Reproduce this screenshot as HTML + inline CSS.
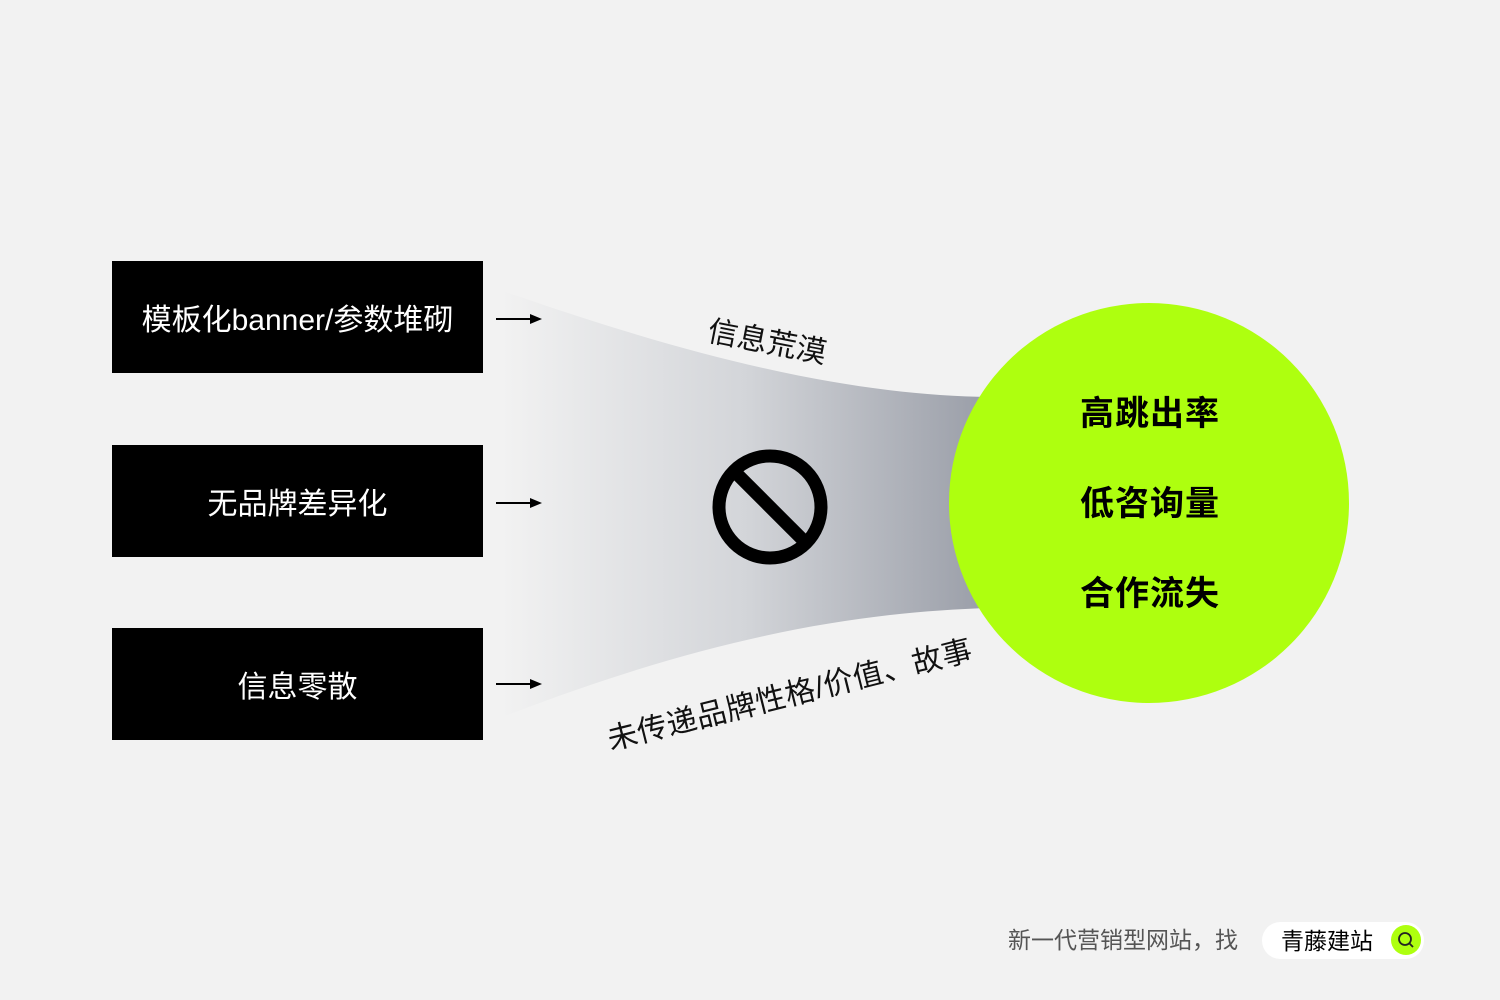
<!DOCTYPE html>
<html><head><meta charset="utf-8"><style>
body{margin:0;width:1500px;height:1000px;background:#f2f2f2;position:relative;overflow:hidden;font-family:"Liberation Sans","Noto Sans CJK SC",sans-serif}
.box{position:absolute;left:112px;width:371px;height:112px;background:#000;color:#fff;font-size:30px;display:flex;align-items:center;justify-content:center}
.t{position:absolute;font-size:30px;color:#111;white-space:nowrap}
.c{position:absolute;left:1080px;font-size:34px;font-weight:bold;color:#000;letter-spacing:1px}
</style></head><body>
<svg width="1500" height="1000" style="position:absolute;left:0;top:0">
<defs><linearGradient id="g" x1="0" x2="1"><stop offset="0" stop-color="#f2f2f2"/><stop offset="0.5" stop-color="#d3d5d9"/><stop offset="1" stop-color="#999da7"/></linearGradient></defs>
<path d="M500 290 C700 360 850 395 990 397 L990 608 C850 612 700 640 500 718 Z" fill="url(#g)"/>
<circle cx="1149" cy="503" r="200" fill="#aeff0f"/>
<circle cx="770" cy="507" r="51" fill="none" stroke="#000" stroke-width="13"/>
<line x1="735" y1="472" x2="805" y2="542" stroke="#000" stroke-width="13"/>
<g stroke="#000" stroke-width="2"><line x1="496" y1="319" x2="532" y2="319"/><line x1="496" y1="503" x2="532" y2="503"/><line x1="496" y1="684" x2="532" y2="684"/></g>
<g fill="#000"><path d="M530 314 L542 319 L530 324Z"/><path d="M530 498 L542 503 L530 508Z"/><path d="M530 679 L542 684 L530 689Z"/></g>
<rect x="1262" y="922" width="162" height="37" rx="18.5" fill="#fff"/>
<circle cx="1406" cy="940" r="15" fill="#aeff0f"/>
<circle cx="1405" cy="939" r="6" fill="none" stroke="#222" stroke-width="1.8"/>
<line x1="1409" y1="943" x2="1413" y2="947" stroke="#222" stroke-width="1.8"/>
</svg>
<div class="box" style="top:261px">模板化banner/参数堆砌</div>
<div class="box" style="top:445px">无品牌差异化</div>
<div class="box" style="top:628px">信息零散</div>
<div class="t" style="left:713px;top:306px;transform:rotate(11deg);transform-origin:left top">信息荒漠</div>
<div class="t" style="left:602px;top:716px;transform:rotate(-14deg);transform-origin:left top;letter-spacing:0.5px">未传递品牌性格/价值、故事</div>
<div class="c" style="top:386px">高跳出率</div>
<div class="c" style="top:476px">低咨询量</div>
<div class="c" style="top:566px">合作流失</div>
<div style="position:absolute;left:1008px;top:921px;font-size:23px;color:#555">新一代营销型网站，找</div>
<div style="position:absolute;left:1281px;top:922px;font-size:23px;color:#000">青藤建站</div>
</body></html>
